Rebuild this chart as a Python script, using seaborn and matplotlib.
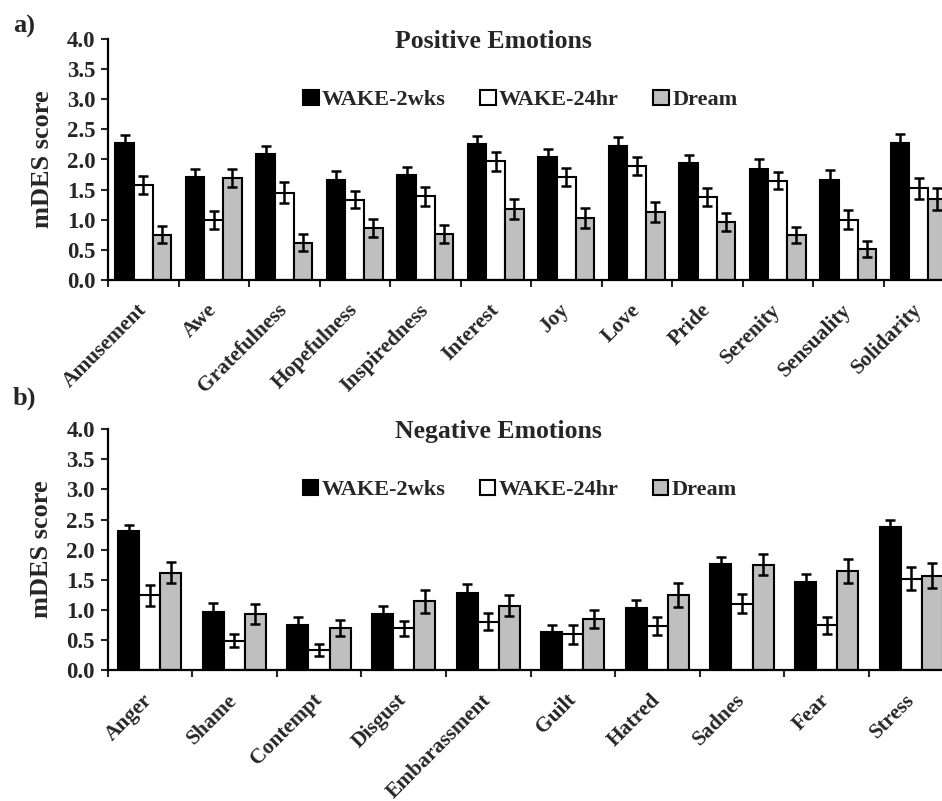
import matplotlib
matplotlib.use("Agg")
import matplotlib.pyplot as plt
import seaborn as sns
import pandas as pd
import numpy as np
from matplotlib.patches import Patch

# ---------------- data ----------------
series = ["WAKE-2wks", "WAKE-24hr", "Dream"]

pos_categories = ["Amusement", "Awe", "Gratefulness", "Hopefulness", "Inspiredness",
                  "Interest", "Joy", "Love", "Pride", "Serenity", "Sensuality", "Solidarity"]
pos_wake2wks = [2.28, 1.71, 2.09, 1.66, 1.75, 2.25, 2.04, 2.23, 1.94, 1.84, 1.66, 2.28]
pos_wake24hr = [1.57, 1.00, 1.45, 1.33, 1.39, 1.97, 1.71, 1.89, 1.37, 1.65, 1.00, 1.52]
pos_dream = [0.75, 1.69, 0.62, 0.87, 0.76, 1.18, 1.03, 1.13, 0.96, 0.75, 0.52, 1.34]
pos_err_wake2wks = [0.13, 0.13, 0.14, 0.15, 0.12, 0.14, 0.13, 0.14, 0.14, 0.16, 0.16, 0.14]
pos_err_wake24hr = [0.15, 0.15, 0.17, 0.14, 0.16, 0.16, 0.15, 0.15, 0.15, 0.14, 0.16, 0.17]
pos_err_dream = [0.14, 0.15, 0.14, 0.15, 0.15, 0.17, 0.17, 0.16, 0.15, 0.13, 0.13, 0.18]

neg_categories = ["Anger", "Shame", "Contempt", "Disgust", "Embarassment",
                  "Guilt", "Hatred", "Sadnes", "Fear", "Stress"]
neg_wake2wks = [2.31, 0.96, 0.75, 0.93, 1.28, 0.63, 1.03, 1.76, 1.46, 2.37]
neg_wake24hr = [1.24, 0.49, 0.33, 0.69, 0.80, 0.59, 0.73, 1.10, 0.74, 1.52]
neg_dream = [1.62, 0.93, 0.70, 1.14, 1.07, 0.84, 1.24, 1.75, 1.65, 1.57]
neg_err_wake2wks = [0.10, 0.15, 0.13, 0.13, 0.15, 0.11, 0.14, 0.12, 0.13, 0.12]
neg_err_wake24hr = [0.17, 0.10, 0.10, 0.13, 0.14, 0.15, 0.15, 0.16, 0.14, 0.19]
neg_err_dream = [0.18, 0.16, 0.13, 0.19, 0.17, 0.15, 0.20, 0.17, 0.20, 0.20]

y_ticks = [0.0, 0.5, 1.0, 1.5, 2.0, 2.5, 3.0, 3.5, 4.0]

colors = ["#000000", "#ffffff", "#bfbfbf"]

# ---------------- style ----------------
sns.set_theme(style="ticks")
plt.rcParams["font.family"] = ["Liberation Serif", "DejaVu Serif"]
plt.rcParams["font.weight"] = "bold"
plt.rcParams["axes.labelweight"] = "bold"

fig = plt.figure(figsize=(9.42, 8.01), dpi=100)
W, H = 942.0, 801.0


def make_panel(rect, cats, vals, errs, bar_total, title, title_x):
    ax = fig.add_axes(rect)
    df = pd.DataFrame({
        "category": np.repeat([cats], 3, axis=0).ravel(),
        "series": np.repeat(series, len(cats)),
        "value": np.concatenate(vals),
        "err": np.concatenate(errs),
    })
    sns.barplot(data=df, x="category", y="value", hue="series", order=cats,
                hue_order=series, palette=colors, width=bar_total,
                errorbar=None, edgecolor="black", linewidth=1.5,
                legend=False, ax=ax, saturation=1)
    for cont, s in zip(ax.containers, series):
        e = df[df["series"] == s]["err"].to_numpy()
        xs = [b.get_x() + b.get_width() / 2 for b in cont]
        hs = [b.get_height() for b in cont]
        ax.errorbar(xs, hs, yerr=e, fmt="none", ecolor="black",
                    elinewidth=1.8, capsize=3.3, capthick=1.8, zorder=5)
    n = len(cats)
    ax.set_xlim(-0.5, n - 0.5)
    ax.set_ylim(0, 4.0)
    ax.set_yticks(y_ticks)
    ax.set_yticklabels([f"{t:.1f}" for t in y_ticks], fontsize=16.5, fontweight="bold")
    ax.set_xticks(range(n))
    ax.set_xticklabels(cats, rotation=45, ha="right", va="center",
                       rotation_mode="anchor", fontsize=15.5, fontweight="bold")
    ax.set_xticks(np.arange(-0.5, n, 1.0), minor=True)
    ax.tick_params(axis="x", which="major", length=0, pad=19.5)
    ax.tick_params(axis="x", which="minor", length=5, width=1.5, direction="out")
    ax.tick_params(axis="y", length=5, width=1.5, direction="out", pad=4)
    for sp in ["top", "right"]:
        ax.spines[sp].set_visible(False)
    for sp in ["left", "bottom"]:
        ax.spines[sp].set_linewidth(1.6)
        ax.spines[sp].set_color("black")
    ax.set_xlabel("")
    ax.set_ylabel("mDES score", fontsize=19, fontweight="bold")
    ax.yaxis.set_label_coords(-0.064, 0.5)
    ax.text(title_x, 0.99, title, transform=ax.transAxes, ha="left", va="center",
            fontsize=18.5, fontweight="bold")
    handles = [Patch(facecolor=c, edgecolor="black", linewidth=1.5) for c in colors]
    ax.legend(handles, series, loc="center left", bbox_to_anchor=(0.2305, 0.747),
              ncol=3, frameon=False, handlelength=0.7,
              handleheight=0.7, handletextpad=0.15, columnspacing=1.55,
              borderpad=0, borderaxespad=0, prop={"weight": "bold", "size": 16})
    return ax


ax1 = make_panel([108 / W, 1 - 280 / H, 846 / W, 241 / H], pos_categories,
                 [pos_wake2wks, pos_wake24hr, pos_dream],
                 [pos_err_wake2wks, pos_err_wake24hr, pos_err_dream],
                 0.795, "Positive Emotions", (395 - 108) / 846)
ax2 = make_panel([107.5 / W, 1 - 670 / H, 846 / W, 240.7 / H], neg_categories,
                 [neg_wake2wks, neg_wake24hr, neg_dream],
                 [neg_err_wake2wks, neg_err_wake24hr, neg_err_dream],
                 0.745, "Negative Emotions", (395 - 107.5) / 846)

fig.text(24 / W, 1 - 26 / H, "a)", fontsize=19, fontweight="bold", ha="center", va="center")
fig.text(24 / W, 1 - 398 / H, "b)", fontsize=19, fontweight="bold", ha="center", va="center")

fig.savefig("out.png", dpi=100)
